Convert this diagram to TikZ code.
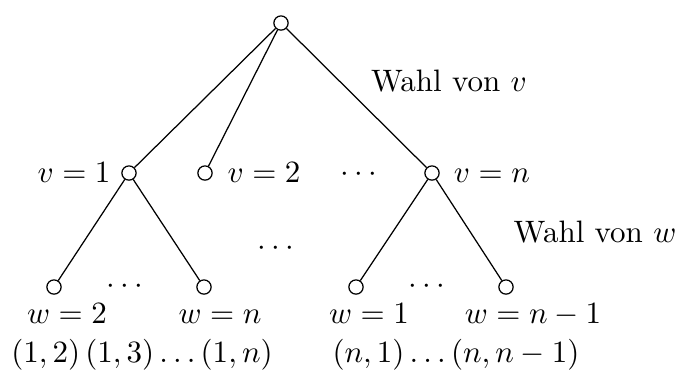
\documentclass[tikz,border=0pt]{standalone}
\usetikzlibrary{positioning}
\tikzset{
  knot/.style={circle,draw,inner sep=0pt,minimum size=4.6pt},
  lbl/.style={inner sep=0pt,anchor=base}
}
\begin{document}
\begin{tikzpicture}[x=0.3226pt,y=-0.3226pt,line width=0.4pt]
\useasboundingbox (0,0) rectangle (680,369);
% Knoten
\node[knot] (root) at (281,23) {};
\node[knot] (v1) at (129,173) {};
\node[knot] (v2) at (205,173) {};
\node[knot] (vn) at (432,173) {};
\node[knot] (w12) at (54,287) {};
\node[knot] (w1n) at (204,287) {};
\node[knot] (wn1) at (356,287) {};
\node[knot] (wnn) at (506,287) {};
% Kanten
\draw (root) -- (v1);
\draw (root) -- (v2);
\draw (root) -- (vn);
\draw (v1) -- (w12);
\draw (v1) -- (w1n);
\draw (vn) -- (wn1);
\draw (vn) -- (wnn);
% Beschriftungen
\node[lbl] (lv1) at (74,182) {$v=1$};
\node[lbl] (lv2) at (264,182) {$v=2$};
\node[lbl] (lvn) at (492,182) {$v=n$};
\node[lbl] (dotsv) at (359,181) {$\cdots$};
\node[lbl] (dotsm) at (276,255) {$\cdots$};
\node[lbl] (dots1) at (125,293) {$\cdots$};
\node[lbl] (dotsn) at (427,293) {$\cdots$};
\node[lbl] (wahlv) at (449,91) {Wahl von $v$};
\node[lbl] (wahlw) at (595,242) {Wahl von $w$};
\node[lbl] (lw2) at (67,323) {$w=2$};
\node[lbl] (lwn) at (220,323) {$w=n$};
\node[lbl] (lw1) at (369,323) {$w=1$};
\node[lbl] (lwm) at (533,323) {$w=n-1$};
\node[lbl] (paare1) at (142,362) {$(1,2)\,(1,3)\ldots(1,n)$};
\node[lbl] (paaren) at (456,362) {$(n,1)\ldots(n,n-1)$};
\end{tikzpicture}
\end{document}
